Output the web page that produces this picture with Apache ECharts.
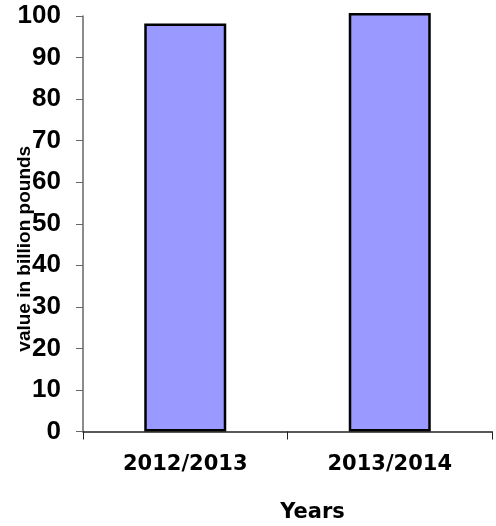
<!DOCTYPE html>
<html><head><meta charset="utf-8">
<script src="https://cdn.jsdelivr.net/npm/echarts@6/dist/echarts.min.js"></script>
<style>html,body{margin:0;padding:0;background:#fff}#c{width:496px;height:526px}</style>
</head><body><div id="c"></div>
<script>
const categories = ['2012/2013', '2013/2014'];
const values = [98.2, 100.7];
const yTicks = [0, 10, 20, 30, 40, 50, 60, 70, 80, 90, 100];

const chart = echarts.init(document.getElementById('c'));
chart.setOption({
  animation: false,
  grid: { left: 83, right: 4, top: 16, bottom: 94.5, containLabel: false, outerBoundsMode: 'none' },
  xAxis: {
    type: 'category',
    data: categories,
    name: 'Years',
    nameLocation: 'middle',
    nameGap: 71,
    nameMoveOverlap: false,
    nameTextStyle: { fontFamily: 'DejaVu Sans', fontWeight: 'bold', fontSize: 21, color: '#000', padding: [0, 0, 0, 50] },
    axisLine: { lineStyle: { color: '#222', width: 1.5 } },
    axisTick: { show: true, alignWithLabel: false, length: 8, inside: false, lineStyle: { color: '#222' } },
    axisLabel: { fontFamily: 'DejaVu Sans', fontWeight: 'bold', fontSize: 21, color: '#000', margin: 23 },
    splitLine: { show: false }
  },
  yAxis: {
    type: 'value',
    min: 0, max: 100, interval: 10,
    name: 'value in billion pounds',
    nameLocation: 'middle',
    nameGap: 49,
    nameMoveOverlap: false,
    nameRotate: 90,
    nameTextStyle: { fontFamily: 'Liberation Sans', fontWeight: 'bold', fontSize: 19, color: '#000', padding: [0, 50, 0, 0] },
    axisLine: { show: true, lineStyle: { color: '#666', width: 1.5 } },
    axisTick: { show: true, length: 7, lineStyle: { color: '#666' } },
    axisLabel: { fontFamily: 'Liberation Sans', fontWeight: 'bold', fontSize: 26, color: '#000', margin: 22,
      formatter: v => yTicks.includes(v) ? String(v) : '' },
    splitLine: { show: false }
  },
  series: [{
    type: 'bar',
    data: values,
    barWidth: 82,
    clip: false,
    itemStyle: { color: '#9999FF', borderColor: '#000', borderWidth: 2.5 }
  }]
});
</script></body></html>
